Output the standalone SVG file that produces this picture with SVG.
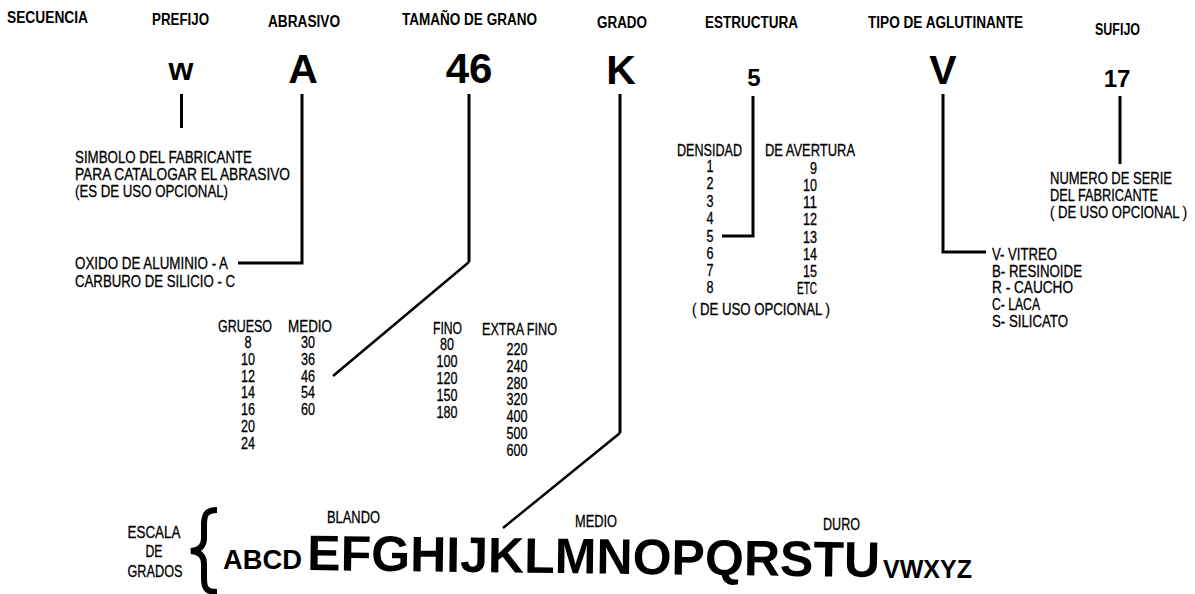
<svg xmlns="http://www.w3.org/2000/svg" width="1195" height="594" viewBox="0 0 1195 594">
<style>
text{fill:#000;font-family:"Liberation Sans Narrow","Liberation Sans",Arial,sans-serif}
.h{font-size:16px;font-weight:bold}
.t,.n,.r{font-size:16px;stroke:#000;stroke-width:0.3}
.n{text-anchor:middle}
.r{text-anchor:end}
.big{font-family:"Liberation Sans",Arial,sans-serif;font-weight:bold;text-anchor:middle}
.scale{font-family:"Liberation Sans",Arial,sans-serif;font-weight:bold}
.ln{fill:none;stroke:#000;stroke-width:3;stroke-linejoin:miter}
.dg{fill:none;stroke:#000;stroke-width:2.5}
</style>
<rect width="1195" height="594" fill="#fff"/>

<g id="headers">
<text class="h" x="7" y="23" textLength="81" lengthAdjust="spacingAndGlyphs">SECUENCIA</text>
<text class="h" x="152" y="25" textLength="57" lengthAdjust="spacingAndGlyphs">PREFIJO</text>
<text class="h" x="268" y="27" textLength="72" lengthAdjust="spacingAndGlyphs">ABRASIVO</text>
<text class="h" x="402" y="25" textLength="135" lengthAdjust="spacingAndGlyphs">TAMAÑO DE GRANO</text>
<text class="h" x="597" y="28" textLength="50" lengthAdjust="spacingAndGlyphs">GRADO</text>
<text class="h" x="705" y="28" textLength="93" lengthAdjust="spacingAndGlyphs">ESTRUCTURA</text>
<text class="h" x="868" y="28" textLength="155" lengthAdjust="spacingAndGlyphs">TIPO DE AGLUTINANTE</text>
<text class="h" x="1095" y="35" textLength="45" lengthAdjust="spacingAndGlyphs">SUFIJO</text>
</g>

<g id="prefijo">
<text class="big" x="181" y="80" font-size="32">w</text>
<text class="t" x="75" y="163" textLength="177" lengthAdjust="spacingAndGlyphs">SIMBOLO DEL FABRICANTE</text>
<text class="t" x="75" y="180" textLength="215" lengthAdjust="spacingAndGlyphs">PARA CATALOGAR EL ABRASIVO</text>
<text class="t" x="75" y="197" textLength="153" lengthAdjust="spacingAndGlyphs">(ES DE USO OPCIONAL)</text>
</g>

<g id="abrasivo">
<text class="big" x="303" y="83" font-size="41">A</text>
<text class="t" x="75" y="269" textLength="153" lengthAdjust="spacingAndGlyphs">OXIDO DE ALUMINIO - A</text>
<text class="t" x="75" y="287" textLength="160" lengthAdjust="spacingAndGlyphs">CARBURO DE SILICIO - C</text>
</g>

<g id="grano">
<text class="big" x="469" y="83" font-size="42">46</text>
<text class="t" x="218" y="332" textLength="54" lengthAdjust="spacingAndGlyphs">GRUESO</text>
<text class="t" x="288" y="332" textLength="44" lengthAdjust="spacingAndGlyphs">MEDIO</text>
<text class="t" x="433" y="334" textLength="29" lengthAdjust="spacingAndGlyphs">FINO</text>
<text class="t" x="482" y="335" textLength="75" lengthAdjust="spacingAndGlyphs">EXTRA FINO</text>
<text class="n" x="248" y="348" textLength="7" lengthAdjust="spacingAndGlyphs">8</text>
<text class="n" x="248" y="365" textLength="14" lengthAdjust="spacingAndGlyphs">10</text>
<text class="n" x="248" y="382" textLength="14" lengthAdjust="spacingAndGlyphs">12</text>
<text class="n" x="248" y="398" textLength="14" lengthAdjust="spacingAndGlyphs">14</text>
<text class="n" x="248" y="415" textLength="14" lengthAdjust="spacingAndGlyphs">16</text>
<text class="n" x="248" y="432" textLength="14" lengthAdjust="spacingAndGlyphs">20</text>
<text class="n" x="248" y="449" textLength="14" lengthAdjust="spacingAndGlyphs">24</text>
<text class="n" x="308" y="348" textLength="14" lengthAdjust="spacingAndGlyphs">30</text>
<text class="n" x="308" y="365" textLength="14" lengthAdjust="spacingAndGlyphs">36</text>
<text class="n" x="308" y="382" textLength="14" lengthAdjust="spacingAndGlyphs">46</text>
<text class="n" x="308" y="398" textLength="14" lengthAdjust="spacingAndGlyphs">54</text>
<text class="n" x="308" y="415" textLength="14" lengthAdjust="spacingAndGlyphs">60</text>
<text class="n" x="447" y="350" textLength="14" lengthAdjust="spacingAndGlyphs">80</text>
<text class="n" x="447" y="367" textLength="21" lengthAdjust="spacingAndGlyphs">100</text>
<text class="n" x="447" y="384" textLength="21" lengthAdjust="spacingAndGlyphs">120</text>
<text class="n" x="447" y="401" textLength="21" lengthAdjust="spacingAndGlyphs">150</text>
<text class="n" x="447" y="418" textLength="21" lengthAdjust="spacingAndGlyphs">180</text>
<text class="n" x="517" y="355" textLength="21" lengthAdjust="spacingAndGlyphs">220</text>
<text class="n" x="517" y="372" textLength="21" lengthAdjust="spacingAndGlyphs">240</text>
<text class="n" x="517" y="389" textLength="21" lengthAdjust="spacingAndGlyphs">280</text>
<text class="n" x="517" y="405" textLength="21" lengthAdjust="spacingAndGlyphs">320</text>
<text class="n" x="517" y="422" textLength="21" lengthAdjust="spacingAndGlyphs">400</text>
<text class="n" x="517" y="439" textLength="21" lengthAdjust="spacingAndGlyphs">500</text>
<text class="n" x="517" y="456" textLength="21" lengthAdjust="spacingAndGlyphs">600</text>
</g>

<g id="grado">
<text class="big" x="621" y="84" font-size="41">K</text>
<text class="t" x="154" y="538" text-anchor="middle" textLength="53" lengthAdjust="spacingAndGlyphs">ESCALA</text>
<text class="t" x="154" y="557" text-anchor="middle" textLength="17" lengthAdjust="spacingAndGlyphs">DE</text>
<text class="t" x="155" y="577" text-anchor="middle" textLength="55" lengthAdjust="spacingAndGlyphs">GRADOS</text>
<path d="M217 510 C206 510 204 515 204 525 L204 538 C204 546 200 550 191 551 C200 552 204 556 204 564 L204 578 C204 588 206 592 217 592" fill="none" stroke="#000" stroke-width="6"/>
<text class="t" x="327" y="523" textLength="53" lengthAdjust="spacingAndGlyphs">BLANDO</text>
<text class="t" x="575" y="527" textLength="42" lengthAdjust="spacingAndGlyphs">MEDIO</text>
<text class="t" x="823" y="530" textLength="37" lengthAdjust="spacingAndGlyphs">DURO</text>
<text class="scale" x="223" y="569" font-size="28" textLength="79" lengthAdjust="spacingAndGlyphs">ABCD</text>
<text class="scale" x="307" y="570" font-size="50" textLength="573" lengthAdjust="spacingAndGlyphs" transform="rotate(0.7 307 570)">EFGHIJKLMNOPQRSTU</text>
<text class="scale" x="883" y="578" font-size="25" textLength="89" lengthAdjust="spacingAndGlyphs">VWXYZ</text>
</g>

<g id="estructura">
<text class="big" x="754" y="86" font-size="24">5</text>
<text class="t" x="677" y="156" textLength="65" lengthAdjust="spacingAndGlyphs">DENSIDAD</text>
<text class="t" x="765" y="156" textLength="90" lengthAdjust="spacingAndGlyphs">DE AVERTURA</text>
<text class="n" x="710" y="172" textLength="7" lengthAdjust="spacingAndGlyphs">1</text>
<text class="n" x="710" y="189" textLength="7" lengthAdjust="spacingAndGlyphs">2</text>
<text class="n" x="710" y="207" textLength="7" lengthAdjust="spacingAndGlyphs">3</text>
<text class="n" x="710" y="224" textLength="7" lengthAdjust="spacingAndGlyphs">4</text>
<text class="n" x="710" y="242" textLength="7" lengthAdjust="spacingAndGlyphs">5</text>
<text class="n" x="710" y="259" textLength="7" lengthAdjust="spacingAndGlyphs">6</text>
<text class="n" x="710" y="276" textLength="7" lengthAdjust="spacingAndGlyphs">7</text>
<text class="n" x="710" y="293" textLength="7" lengthAdjust="spacingAndGlyphs">8</text>
<text class="r" x="817" y="174" textLength="7" lengthAdjust="spacingAndGlyphs">9</text>
<text class="r" x="817" y="191" textLength="14" lengthAdjust="spacingAndGlyphs">10</text>
<text class="r" x="817" y="208" textLength="14" lengthAdjust="spacingAndGlyphs">11</text>
<text class="r" x="817" y="225" textLength="14" lengthAdjust="spacingAndGlyphs">12</text>
<text class="r" x="817" y="243" textLength="14" lengthAdjust="spacingAndGlyphs">13</text>
<text class="r" x="817" y="260" textLength="14" lengthAdjust="spacingAndGlyphs">14</text>
<text class="r" x="817" y="277" textLength="14" lengthAdjust="spacingAndGlyphs">15</text>
<text class="r" x="817" y="294" textLength="20" lengthAdjust="spacingAndGlyphs">ETC</text>
<text class="t" x="692" y="315" textLength="138" lengthAdjust="spacingAndGlyphs">( DE USO OPCIONAL )</text>
</g>

<g id="aglutinante">
<text class="big" x="943" y="84" font-size="41">V</text>
<text class="t" x="992" y="260" textLength="65" lengthAdjust="spacingAndGlyphs">V- VITREO</text>
<text class="t" x="992" y="277" textLength="90" lengthAdjust="spacingAndGlyphs">B- RESINOIDE</text>
<text class="t" x="992" y="293" textLength="81" lengthAdjust="spacingAndGlyphs">R - CAUCHO</text>
<text class="t" x="992" y="310" textLength="48" lengthAdjust="spacingAndGlyphs">C- LACA</text>
<text class="t" x="992" y="327" textLength="76" lengthAdjust="spacingAndGlyphs">S- SILICATO</text>
</g>

<g id="sufijo">
<text class="big" x="1117" y="87" font-size="24">17</text>
<text class="r" x="1172" y="184" textLength="122" lengthAdjust="spacingAndGlyphs">NUMERO DE SERIE</text>
<text class="r" x="1158" y="201" textLength="108" lengthAdjust="spacingAndGlyphs">DEL FABRICANTE</text>
<text class="r" x="1187" y="218" textLength="137" lengthAdjust="spacingAndGlyphs">( DE USO OPCIONAL )</text>
</g>

<g id="connectors">
<path class="ln" d="M181.5 94 V128"/>
<path class="ln" d="M302 94 V263 H238"/>
<path class="ln" d="M469 94 V262"/>
<path class="dg" d="M469 262 L333 376"/>
<path class="ln" d="M620 94 V433"/>
<path class="dg" d="M620 433 L503 528"/>
<path class="ln" d="M753 96 V236 H722"/>
<path class="ln" d="M943 94 V252 H986"/>
<path class="ln" d="M1120 96 V164"/>
</g>
</svg>
